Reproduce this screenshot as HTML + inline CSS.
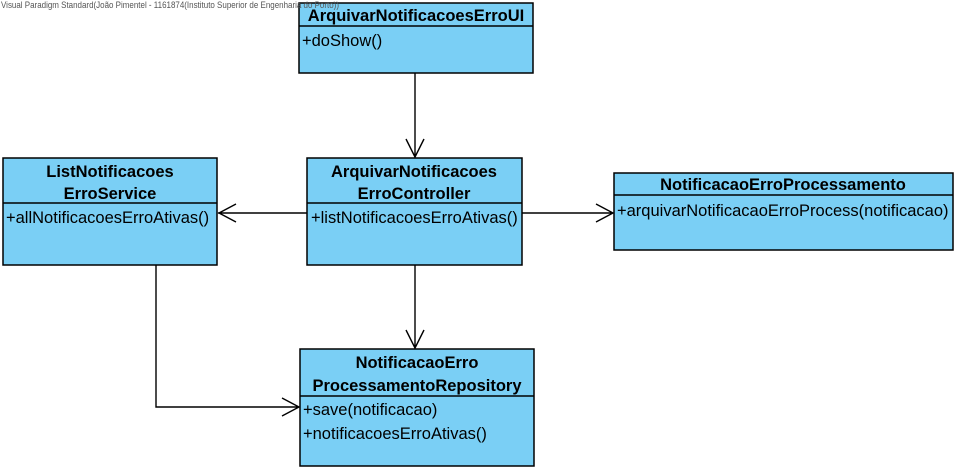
<!DOCTYPE html>
<html><head><meta charset="utf-8"><style>
html,body{margin:0;padding:0;background:#fff;}
svg{display:block;font-family:"Liberation Sans",Arial,sans-serif;}
.b{fill:#7acff5;stroke:#000;stroke-width:1.5}
.h{font-weight:bold;font-size:16.5px;text-anchor:middle}
.m{font-size:16.5px}
.l{stroke:#000;stroke-width:1.4;fill:none}
</style></head><body>
<svg width="959" height="471" viewBox="0 0 959 471">
<!-- connectors -->
<path class="l" d="M415 73V158M406 139L415 157L424 139"/>
<path class="l" d="M307 213H218M236 204L219 213L236 222"/>
<path class="l" d="M522 213H613M596 204L613 213L596 222"/>
<path class="l" d="M415 265V349M406 330L415 348L424 330"/>
<path class="l" d="M156 265V407H299M282 398L299 407L282 416"/>
<!-- UI -->
<rect class="b" x="299" y="3" width="234" height="70"/>
<line class="l" x1="299" y1="26" x2="533" y2="26"/>
<text class="h" x="416" y="21">ArquivarNotificacoesErroUI</text>
<text class="m" x="302" y="46">+doShow()</text>
<!-- List -->
<rect class="b" x="3" y="158" width="214" height="107"/>
<line class="l" x1="3" y1="203" x2="217" y2="203"/>
<text class="h" x="110" y="177">ListNotificacoes</text>
<text class="h" x="110" y="199">ErroService</text>
<text class="m" x="6" y="223">+allNotificacoesErroAtivas()</text>
<!-- Controller -->
<rect class="b" x="307" y="158" width="215" height="107"/>
<line class="l" x1="307" y1="203" x2="522" y2="203"/>
<text class="h" x="414" y="177">ArquivarNotificacoes</text>
<text class="h" x="414" y="199">ErroController</text>
<text class="m" x="311" y="223">+listNotificacoesErroAtivas()</text>
<!-- Proc -->
<rect class="b" x="614" y="173" width="339" height="77"/>
<line class="l" x1="614" y1="195" x2="953" y2="195"/>
<text class="h" x="783" y="190">NotificacaoErroProcessamento</text>
<text class="m" x="617" y="216">+arquivarNotificacaoErroProcess(notificacao)</text>
<!-- Repo -->
<rect class="b" x="300" y="349" width="234" height="117"/>
<line class="l" x1="300" y1="396" x2="534" y2="396"/>
<text class="h" x="417" y="368">NotificacaoErro</text>
<text class="h" x="417" y="391">ProcessamentoRepository</text>
<text class="m" x="303" y="415">+save(notificacao)</text>
<text class="m" x="303" y="439">+notificacoesErroAtivas()</text>
<text x="1" y="8" font-size="9" fill="#555" textLength="338" lengthAdjust="spacingAndGlyphs">Visual Paradigm Standard(João Pimentel - 1161874(Instituto Superior de Engenharia do Porto))</text>
</svg>
</body></html>
